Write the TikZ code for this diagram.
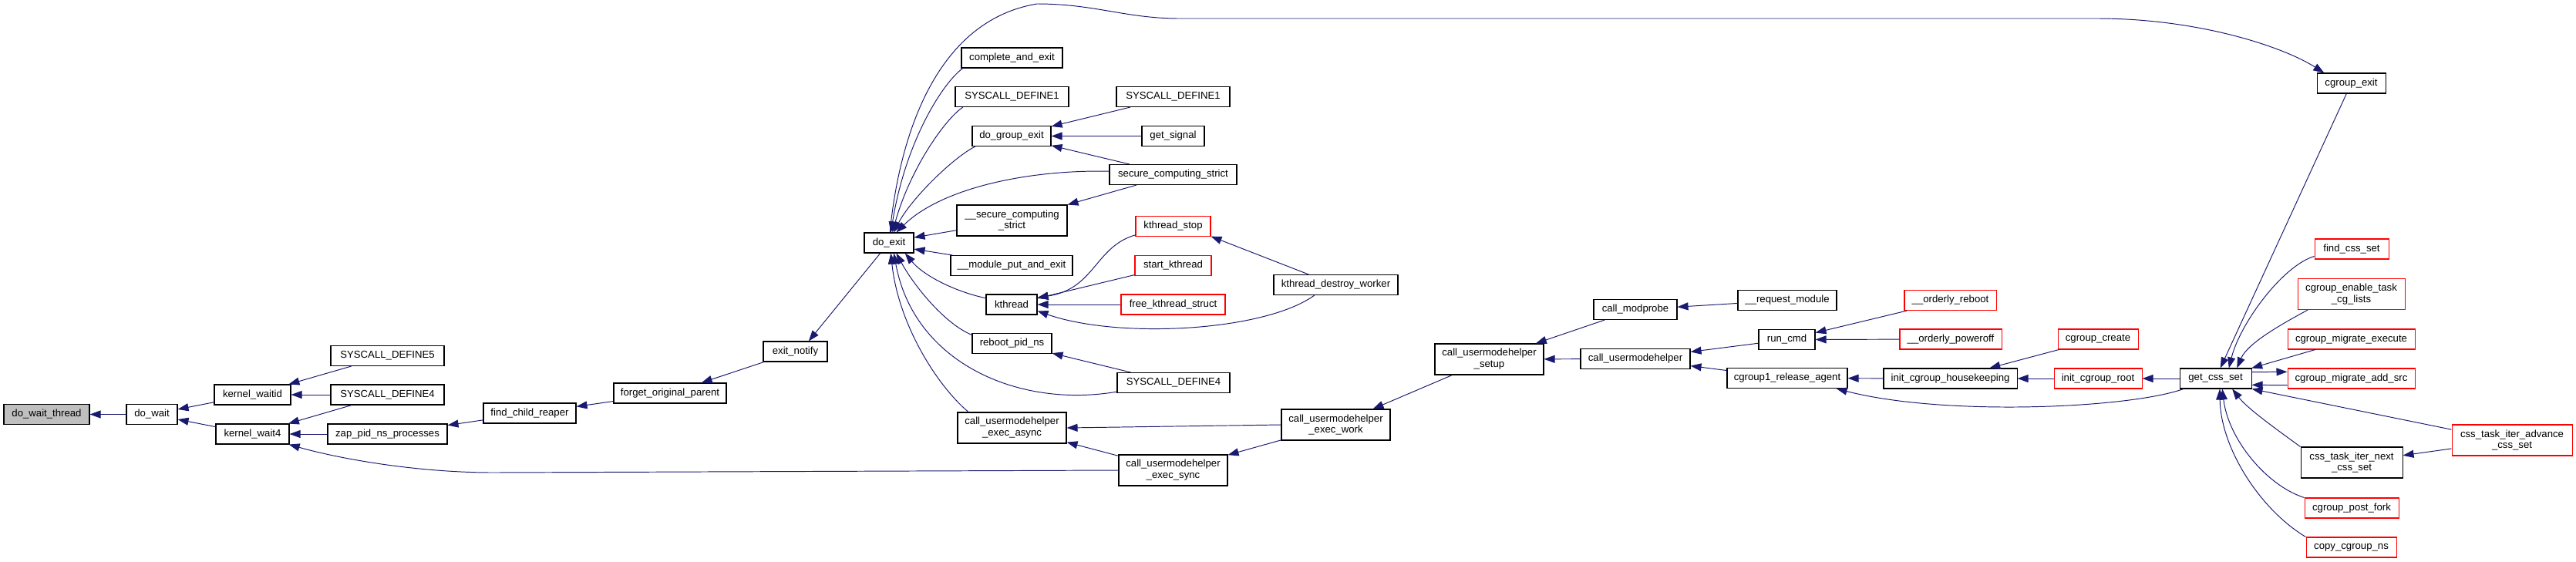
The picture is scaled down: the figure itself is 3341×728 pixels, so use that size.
\documentclass[tikz,border=0pt]{standalone}
\usepackage{fontspec}
\setmainfont{Liberation Sans}
\usetikzlibrary{arrows.meta}
\definecolor{edgeblue}{RGB}{25,25,112}
\definecolor{rootgray}{RGB}{191,191,191}
\tikzset{every picture/.style={line width=0.6pt}}

\begin{document}
\begin{tikzpicture}[x=0.02cm, y=-0.02cm,
    fn/.style={draw=black, fill=white, inner sep=0pt, minimum height=0.52cm, align=center, font=\fontsize{7.5}{8.5}\selectfont},
    fnred/.style={fn, draw=red},
    fnroot/.style={fn, fill=rootgray},
    bw/.style={minimum width=#1*0.02cm},
    tall/.style={minimum height=0.8cm},
    call/.style={edgeblue, line width=0.55pt, -{Triangle[length=0.28cm, width=0.2cm]}}]

    \useasboundingbox (0,0) rectangle (3341,728);

    % --- do_wait_thread 到 do_exit ---
    \node[fnroot, bw=111] (dowaitthread) at (60.5,537.5) {do\_wait\_thread};
    \node[fn, bw=66] (dowait) at (197,537.5) {do\_wait};
    \node[fn, bw=99] (kwaitid) at (327.5,512) {kernel\_waitid};
    \node[fn, bw=95] (kwait4) at (327.5,563) {kernel\_wait4};
    \node[fn, bw=147] (sd5) at (502.5,461.5) {SYSCALL\_DEFINE5};
    \node[fn, bw=147] (sd4a) at (502.5,512) {SYSCALL\_DEFINE4};
    \node[fn, bw=155] (zap) at (502.5,563) {zap\_pid\_ns\_processes};
    \node[fn, bw=120] (findchild) at (687,536) {find\_child\_reaper};
    \node[fn, bw=146] (forget) at (869,510) {forget\_original\_parent};
    \node[fn, bw=83] (exitnotify) at (1031.5,456) {exit\_notify};
    \node[fn, bw=64] (doexit) at (1153,315) {do\_exit};

    % do_exit 的调用者
    \node[fn, bw=131] (complete) at (1312.5,75) {complete\_and\_exit};
    \node[fn, bw=147] (sd1a) at (1312.5,125.5) {SYSCALL\_DEFINE1};
    \node[fn, bw=102] (dogroup) at (1312,176.5) {do\_group\_exit};
    \node[fn, bw=143, tall] (secstrict2) at (1312.5,286) {\_\_secure\_computing\\\_strict};
    \node[fn, bw=158] (modput) at (1312,344.5) {\_\_module\_put\_and\_exit};
    \node[fn, bw=66] (kthread) at (1312,395) {kthread};
    \node[fn, bw=103] (rebootpid) at (1312.5,445.5) {reboot\_pid\_ns};
    \node[fn, bw=141, tall] (execasync) at (1312.5,555) {call\_usermodehelper\\\_exec\_async};

    \node[fn, bw=147] (sd1b) at (1521.5,125.5) {SYSCALL\_DEFINE1};
    \node[fn, bw=81] (getsignal) at (1521.5,176.5) {get\_signal};
    \node[fn, bw=165] (secstrict) at (1521.5,226.5) {secure\_computing\_strict};
    \node[fnred, bw=97] (kthreadstop) at (1521.5,293.5) {kthread\_stop};
    \node[fnred, bw=99] (startkthread) at (1521.5,344.5) {start\_kthread};
    \node[fnred, bw=135] (freekthread) at (1521.5,395) {free\_kthread\_struct};
    \node[fn, bw=146] (sd4b) at (1522,496.5) {SYSCALL\_DEFINE4};
    \node[fn, bw=141, tall] (execsync) at (1521.5,610) {call\_usermodehelper\\\_exec\_sync};

    % --- usermodehelper 与 cgroup ---
    \node[fn, bw=161] (kdestroy) at (1732.5,369.5) {kthread\_destroy\_worker};
    \node[fn, bw=141, tall] (execwork) at (1732.5,551) {call\_usermodehelper\\\_exec\_work};
    \node[fn, bw=141, tall] (umhsetup) at (1931.5,466) {call\_usermodehelper\\\_setup};
    \node[fn, bw=108] (modprobe) at (2121,401.5) {call\_modprobe};
    \node[fn, bw=142] (umh) at (2121,465.5) {call\_usermodehelper};
    \node[fn, bw=128] (reqmodule) at (2318,389.5) {\_\_request\_module};
    \node[fn, bw=73] (runcmd) at (2317.5,440.5) {run\_cmd};
    \node[fn, bw=156] (releaseagent) at (2318,490.5) {cgroup1\_release\_agent};
    \node[fnred, bw=119] (orderlyreboot) at (2529.5,389.5) {\_\_orderly\_reboot};
    \node[fnred, bw=132] (orderlypoweroff) at (2530,440) {\_\_orderly\_poweroff};
    \node[fn, bw=173] (housekeeping) at (2529.5,491) {init\_cgroup\_housekeeping};
    \node[fnred, bw=104] (cgcreate) at (2721,440) {cgroup\_create};
    \node[fnred, bw=114] (cgroot) at (2721,491) {init\_cgroup\_root};
    \node[fn, bw=93] (getcss) at (2873.5,491) {get\_css\_set};

    % get_css_set 的调用者
    \node[fn, bw=89] (cgexit) at (3049.5,108) {cgroup\_exit};
    \node[fnred, bw=96] (findcss) at (3050,323) {find\_css\_set};
    \node[fnred, bw=139, tall] (enabletask) at (3049.5,381.5) {cgroup\_enable\_task\\\_cg\_lists};
    \node[fnred, bw=165] (migexec) at (3049.5,440) {cgroup\_migrate\_execute};
    \node[fnred, bw=165] (migadd) at (3049.5,491) {cgroup\_migrate\_add\_src};
    \node[fn, bw=132, tall] (iternext) at (3050,600) {css\_task\_iter\_next\\\_css\_set};
    \node[fnred, bw=122] (postfork) at (3050,659) {cgroup\_post\_fork};
    \node[fnred, bw=117] (copyns) at (3049.5,710) {copy\_cgroup\_ns};
    \node[fnred, bw=156, tall] (iteradv) at (3258,571) {css\_task\_iter\_advance\\\_css\_set};

    % --- 直线调用边 ---
    \foreach \a/\b in {dowait/dowaitthread, kwaitid/dowait, kwait4/dowait, sd5/kwaitid,
        sd4a/kwaitid, sd4a/kwait4, zap/kwait4, findchild/zap, forget/findchild,
        exitnotify/forget, sd1b/dogroup, getsignal/dogroup, secstrict/dogroup,
        secstrict/secstrict2, startkthread/kthread, freekthread/kthread, sd4b/rebootpid,
        execsync/execasync, execwork/execsync, umhsetup/execwork, modprobe/umhsetup,
        umh/umhsetup, reqmodule/modprobe, runcmd/umh, releaseagent/umh,
        orderlyreboot/runcmd, orderlypoweroff/runcmd, housekeeping/releaseagent,
        cgcreate/housekeeping, cgroot/housekeeping, getcss/cgroot, cgexit/getcss,
        migexec/getcss, iteradv/iternext} {
        \draw[call] (\a) -- (\b);
    }

    % 进入 do_exit 的边
    \draw[call] (doexit.-130) -- (exitnotify.38);
    \draw[call] (complete.-168) .. controls (1225,105) and (1175,180) .. (doexit.80);
    \draw[call] (sd1a.-168) .. controls (1225,155) and (1180,220) .. (doexit.72);
    \draw[call] (dogroup.-164) .. controls (1235,205) and (1180,260) .. (doexit.65);
    \draw[call] (secstrict.177) .. controls (1330,220) and (1220,245) .. (doexit.55);
    \draw[call] (secstrict2.-170) -- (doexit.12);
    \draw[call] (modput.170) -- (doexit.-14);
    \draw[call] (kthread.166) .. controls (1245,380) and (1200,360) .. (doexit.-33);
    \draw[call] (rebootpid.168) .. controls (1225,420) and (1185,370) .. (doexit.-55);
    \draw[call] (sd4b.-171) .. controls (1320,530) and (1185,470) .. (doexit.-65);
    \draw[call] (execasync.160) .. controls (1215,500) and (1165,420) .. (doexit.-80);
    \draw[call] (doexit.85) .. controls (1162,220) and (1195,30) .. (1345,5)
        .. controls (1420,5) and (1460,24) .. (1530,24) -- (2720,24)
        .. controls (2850,24) and (2960,60) .. (cgexit.159);

    % kthread
    \draw[call] (kthreadstop.-167) .. controls (1420,320) and (1420,375) .. (kthread.15);
    \draw[call] (kdestroy.-154) .. controls (1640,430) and (1450,440) .. (kthread.-14);
    \draw[call] (kdestroy.159) -- (kthreadstop.-15);

    % usermodehelper
    \draw[call] (execwork.west) -- (execasync.east);
    \draw[call] (execsync.west) -- (640,613) .. controls (540,613) and (440,595) .. (kwait4.-16);

    % --- get_css_set ---
    \draw[call] (getcss.-162) .. controls (2760,530) and (2520,540) .. (releaseagent.-12);
    \draw[call] (findcss.-169) .. controls (2960,345) and (2905,420) .. (getcss.38);
    \draw[call] (enabletask.-160) .. controls (2960,420) and (2915,445) .. (getcss.26);
    \draw[call] (getcss.10) -- (migadd.174);
    \draw[call] (migadd.-174) -- (getcss.-10);
    \draw[call] (iteradv.170) -- (getcss.-16);
    \draw[call] (iternext.north west) .. controls (2950,555) and (2915,530) .. (getcss.-32);
    \draw[call] (postfork.north west) .. controls (2940,630) and (2890,570) .. (getcss.-57);
    \draw[call] (copyns.north west) .. controls (2930,660) and (2880,580) .. (getcss.-68);

\end{tikzpicture}
\end{document}
